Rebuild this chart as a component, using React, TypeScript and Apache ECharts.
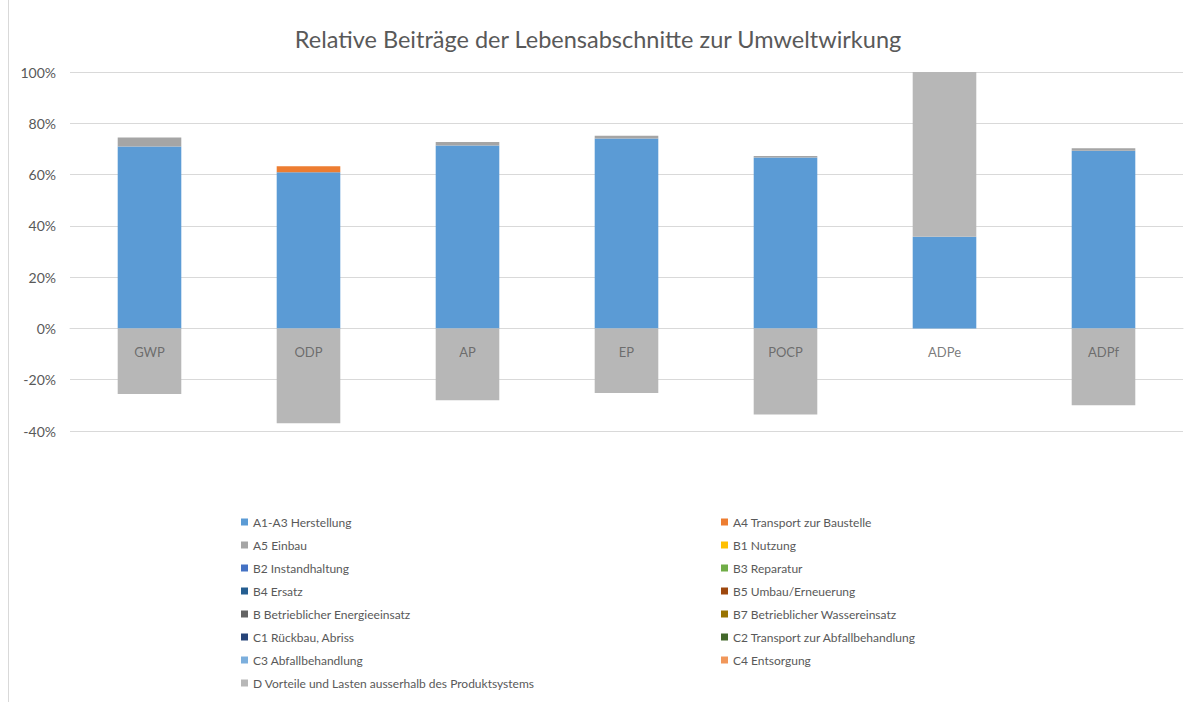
import React, { useEffect, useRef } from "react";
import * as echarts from "echarts";

const categories = ["GWP", "ODP", "AP", "EP", "POCP", "ADPe", "ADPf"];
const seriesNames = [
  "A1-A3 Herstellung",
  "A4 Transport zur Baustelle",
  "A5 Einbau",
  "B1 Nutzung",
  "B2 Instandhaltung",
  "B3 Reparatur",
  "B4 Ersatz",
  "B5 Umbau/Erneuerung",
  "B Betrieblicher Energieeinsatz",
  "B7 Betrieblicher Wassereinsatz",
  "C1 Rückbau, Abriss",
  "C2 Transport zur Abfallbehandlung",
  "C3 Abfallbehandlung",
  "C4 Entsorgung",
  "D Vorteile und Lasten ausserhalb des Produktsystems",
];
const seriesColors = [
  "#5b9bd5", "#ed7d31", "#a5a5a5", "#ffc000", "#4472c4", "#70ad47", "#255e91",
  "#9e480e", "#636363", "#997300", "#264478", "#43682b", "#7cafdd", "#f1975a", "#b7b7b7",
];
const a1a3 = [70.9, 60.9, 71.3, 74.1, 66.7, 35.8, 69.3];
const a4 = [0, 2.3, 0, 0, 0, 0, 0];
const a5 = [3.6, 0, 1.4, 1.0, 0.5, 0, 1.0];
const zeros = [0, 0, 0, 0, 0, 0, 0];
const dValues = [-25.6, -37.0, -28.0, -25.2, -33.6, 64.2, -30.0];
const seriesValues = [
  a1a3, a4, a5, zeros, zeros, zeros, zeros, zeros, zeros, zeros, zeros, zeros, zeros, zeros, dValues,
];
const yTicks = { min: -40, max: 100, interval: 20 };
const leftLegend = [0, 2, 4, 6, 8, 10, 12, 14].map((i) => seriesNames[i]);
const rightLegend = [1, 3, 5, 7, 9, 11, 13].map((i) => seriesNames[i]);

const FONT = "Lato, 'Open Sans', sans-serif";

export default function App() {
  const ref = useRef<HTMLDivElement>(null);
  useEffect(() => {
    if (!ref.current) return;
    const chart = echarts.init(ref.current, null, { renderer: "svg" });
    const legendCommon = {
      orient: "vertical" as const,
      top: 510,
      itemWidth: 7,
      itemHeight: 7,
      itemGap: 9,
      icon: "rect",
      selectedMode: false,
      textStyle: { color: "#595959", fontSize: 12, fontFamily: FONT, lineHeight: 14 },
    };
    chart.setOption({
      animation: false,
      backgroundColor: "#ffffff",
      textStyle: { fontFamily: FONT },
      title: {
        text: "Relative Beiträge der Lebensabschnitte zur Umweltwirkung",
        left: "center",
        top: 22,
        textStyle: { color: "#595959", fontSize: 23.5, fontWeight: "normal", fontFamily: FONT },
      },
      legend: [
        { ...legendCommon, left: 236, data: leftLegend },
        { ...legendCommon, left: 716, data: rightLegend },
      ],
      grid: { left: 70, right: 13, top: 72, bottom: 271, containLabel: false },
      xAxis: {
        type: "category",
        data: categories,
        axisLine: { show: true, onZero: true, lineStyle: { color: "#d9d9d9" } },
        axisTick: { show: false },
        axisLabel: { show: false },
      },
      yAxis: {
        type: "value",
        min: yTicks.min,
        max: yTicks.max,
        interval: yTicks.interval,
        axisLine: { show: false },
        axisTick: { show: false },
        axisLabel: { color: "#595959", fontSize: 14, margin: 14, formatter: "{value}%", fontFamily: FONT },
        splitLine: { lineStyle: { color: "#d9d9d9" } },
      },
      series: [
        ...seriesNames.map((name, i) => ({
          name,
          type: "bar",
          stack: "total",
          data: seriesValues[i],
          barWidth: "40%",
          itemStyle: { color: seriesColors[i] },
        })),
        {
          name: "__labels",
          type: "scatter",
          z: 20,
          symbolSize: 0,
          silent: true,
          data: categories.map((c) => [c, 0]),
          label: {
            show: true,
            position: "bottom",
            distance: 17,
            formatter: (p: any) => p.value[0],
            color: "#595959",
            fontSize: 13,
            fontFamily: FONT,
          },
        },
      ],
      graphic: [
        { type: "line", shape: { x1: 8.5, y1: 0, x2: 8.5, y2: 702 }, style: { stroke: "#d9d9d9", lineWidth: 1 } },
      ],
    });
    return () => chart.dispose();
  }, []);
  return (
    <div
      ref={ref}
      style={{ position: "fixed", left: 0, top: 0, width: 1196, height: 702 }}
    />
  );
}
